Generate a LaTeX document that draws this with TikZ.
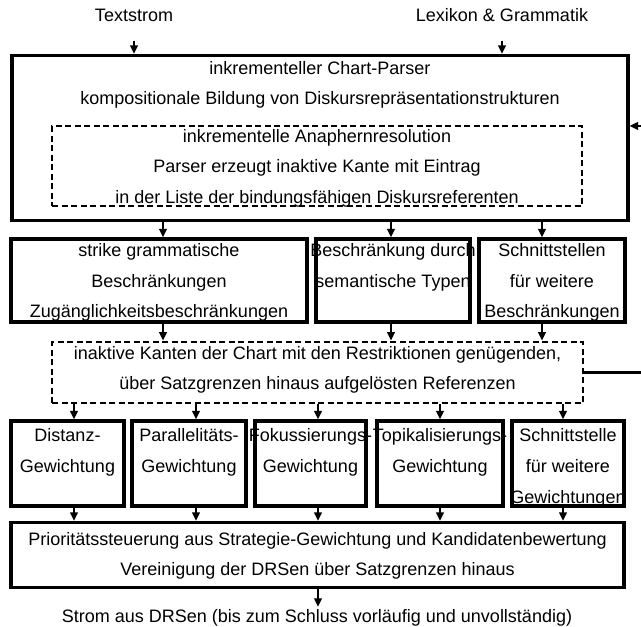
\documentclass[tikz,border=0pt]{standalone}
\usepackage{fontspec}
\setmainfont{Liberation Sans}
\usetikzlibrary{arrows.meta,calc}
\begin{document}
\begin{tikzpicture}[x=1pt,y=-1pt,
  solidbox/.style={draw, line width=3.1pt, inner sep=0pt},
  dashbox/.style={draw, line width=2.8pt, dash pattern=on 6pt off 3.5pt, inner sep=0pt},
  lbl/.style={font=\fontsize{18}{20}\selectfont, text height=13pt, text depth=4pt, inner sep=0pt},
  arr/.style={line width=2.1pt, -{Triangle[length=8.5pt,width=7.5pt]}}]
\useasboundingbox (0,0) rectangle (641,627);
% x positions of connectors
\coordinate (xa) at (163,0);
\coordinate (xb) at (391,0);
\coordinate (xc) at (542,0);
\coordinate (x1) at (74,0);
\coordinate (x2) at (196,0);
\coordinate (x3) at (318,0);
\coordinate (x4) at (440,0);
\coordinate (x5) at (563,0);
% inputs
\node[lbl] (ts) at (134,17) {Textstrom};
\node[lbl] (lg) at (502,17) {Lexikon \& Grammatik};
% top box
\node[solidbox, minimum width=616pt, minimum height=165pt] (top) at (320,138) {};
\node[lbl] (t1) at (320,69.5) {inkrementeller Chart-Parser};
\node[lbl] (t2) at (320,100) {kompositionale Bildung von Diskursrepräsentationstrukturen};
\node[dashbox, minimum width=530pt, minimum height=80pt] (ana) at (317,166) {};
\node[lbl] (a1) at (317,137.5) {inkrementelle Anaphernresolution};
\node[lbl] (a2) at (317,168) {Parser erzeugt inaktive Kante mit Eintrag};
\node[lbl] (a3) at (317,198.5) {in der Liste der bindungsfähigen Diskursreferenten};
% middle row
\node[solidbox, minimum width=296pt, minimum height=83pt] (b1) at (159,280.5) {};
\node[lbl] at (159,252) {strike grammatische};
\node[lbl] at (159,282.5) {Beschränkungen};
\node[lbl] at (159,313) {Zugänglichkeitsbeschränkungen};
\node[solidbox, minimum width=154pt, minimum height=83pt] (b2) at (393,280.5) {};
\node[lbl] at (393,252) {Beschränkung durch};
\node[lbl] at (393,282.5) {semantische Typen};
\node[solidbox, minimum width=146pt, minimum height=83pt] (b3) at (552,280.5) {};
\node[lbl] at (552,252) {Schnittstellen};
\node[lbl] at (552,282.5) {für weitere};
\node[lbl] at (552,313) {Beschränkungen};
% dashed result box
\node[dashbox, minimum width=531pt, minimum height=61pt] (res) at (317.5,372.5) {};
\node[lbl] at (317.5,355) {inaktive Kanten der Chart mit den Restriktionen genügenden,};
\node[lbl] at (317.5,385) {über Satzgrenzen hinaus aufgelösten Referenzen};
% lower row
\node[solidbox, minimum width=113pt, minimum height=85pt] (g1) at (67.5,463.5) {};
\node[lbl] at (67.5,437) {Distanz-};
\node[lbl] at (67.5,468) {Gewichtung};
\node[solidbox, minimum width=114pt, minimum height=85pt] (g2) at (189,463.5) {};
\node[lbl] at (189,437) {Parallelitäts-};
\node[lbl] at (189,468) {Gewichtung};
\node[solidbox, minimum width=111pt, minimum height=85pt] (g3) at (310.5,463.5) {};
\node[lbl] at (310.5,437) {Fokussierungs-};
\node[lbl] at (310.5,468) {Gewichtung};
\node[solidbox, minimum width=126pt, minimum height=85pt] (g4) at (440,463.5) {};
\node[lbl] at (440,437) {Topikalisierungs-};
\node[lbl] at (440,468) {Gewichtung};
\node[solidbox, minimum width=112pt, minimum height=85pt] (g5) at (568,463.5) {};
\node[lbl] at (568,437) {Schnittstelle};
\node[lbl] at (568,468) {für weitere};
\node[lbl] at (568,498.5) {Gewichtungen};
% bottom box
\node[solidbox, minimum width=613pt, minimum height=65pt] (pri) at (317.5,555) {};
\node[lbl] at (317.5,540.5) {Prioritätssteuerung aus Strategie-Gewichtung und Kandidatenbewertung};
\node[lbl] at (317.5,571) {Vereinigung der DRSen über Satzgrenzen hinaus};
\node[lbl] (out) at (317,617.5) {Strom aus DRSen (bis zum Schluss vorläufig und unvollständig)};
% connectors
\draw[arr] ([yshift=-15pt]ts.south) -- (ts.south |- top.north);
\draw[arr] ([yshift=-15pt]lg.south) -- (lg.south |- top.north);
\foreach \c/\b in {xa/b1, xb/b2, xc/b3} {
  \draw[arr] (top.south -| \c) -- (\b.north -| \c);
  \draw[arr] (\b.south -| \c) -- (res.north -| \c);
}
\foreach \c/\g in {x1/g1, x2/g2, x3/g3, x4/g4, x5/g5} {
  \draw[arr] (res.south -| \c) -- (\g.north -| \c);
  \draw[arr] (\g.south -| \c) -- (pri.north -| \c);
}
\draw[arr] (pri.south -| x3) -- ([yshift=2pt]out.north -| x3);
\draw[line width=2.4pt, -{Triangle[length=8.5pt,width=7.5pt]}] (res.east) -- ++(70,0) |- ($(top.north east)+(0,72)$);
\end{tikzpicture}
\end{document}
